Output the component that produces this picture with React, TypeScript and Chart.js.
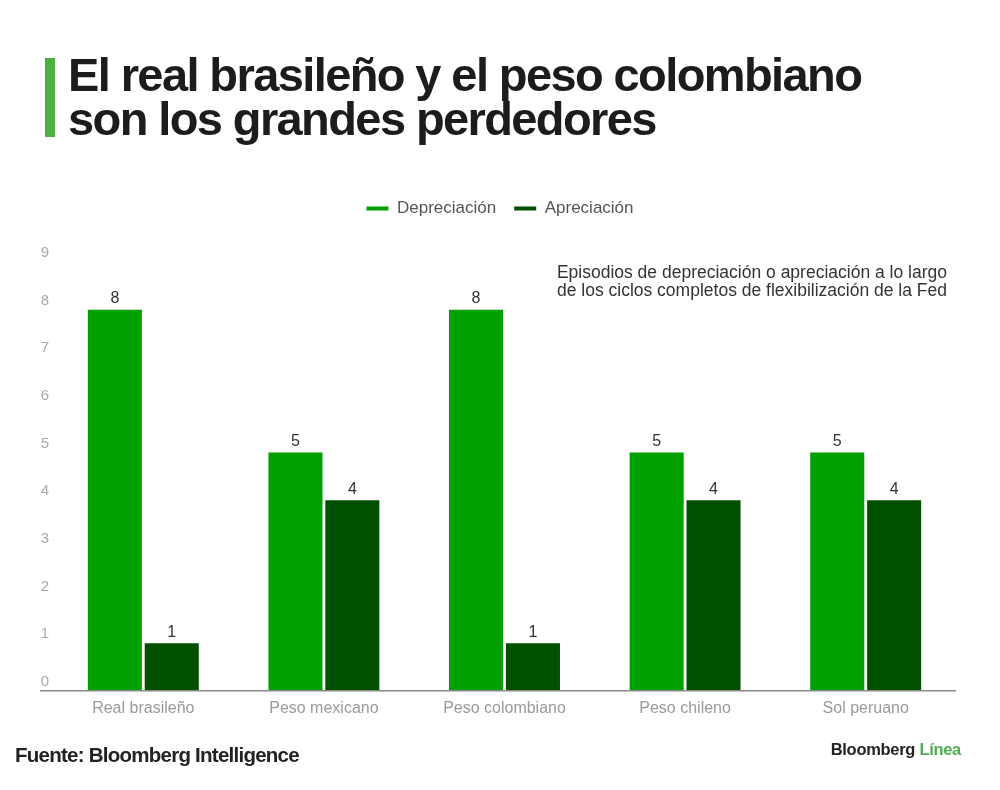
import React, { useEffect, useRef } from 'react';
import { Chart, registerables } from 'chart.js';

Chart.register(...registerables);

const FONT = '"Liberation Sans", Arial, Helvetica, sans-serif';

const categories = ['Real brasileño', 'Peso mexicano', 'Peso colombiano', 'Peso chileno', 'Sol peruano'];
const seriesNames = ['Depreciación', 'Apreciación'];
const depreciacion = [8, 5, 8, 5, 5];
const apreciacion = [1, 4, 1, 4, 4];
const yMin = 0;
const yMax = 9;
const yStep = 1;

const titleLines = ['El real brasileño y el peso colombiano', 'son los grandes perdedores'];
const noteLines = [
  'Episodios de depreciación o apreciación a lo largo',
  'de los ciclos completos de flexibilización de la Fed',
];
const sourceText = 'Fuente: Bloomberg Intelligence';

const COLORS = ['#00a000', '#005000'];

const legendSpacer = {
  id: 'legendSpacer',
  beforeLayout(chart: any) {
    const legend = chart.legend;
    if (legend && !legend.__patched) {
      const fit = legend.fit;
      legend.fit = function () {
        fit.call(this);
        this.height = 80;
      };
      legend.__patched = true;
    }
  },
  afterLayout(chart: any) {
    const legend = chart.legend;
    if (legend) {
      // centre the legend on the page rather than on the padded box
      const w = chart.width;
      const half = Math.min(legend.left, w - legend.right);
      legend.left = half;
      legend.right = w - half;
    }
  },
};

const baseline = {
  id: 'baseline',
  afterDatasetsDraw(chart: any) {
    const { ctx, chartArea, scales } = chart;
    const y = scales.y.getPixelForValue(0);
    ctx.save();
    ctx.strokeStyle = '#8a8a8a';
    ctx.lineWidth = 1.5;
    ctx.beginPath();
    ctx.moveTo(chartArea.left - 13, y);
    ctx.lineTo(chartArea.right, y);
    ctx.stroke();
    ctx.restore();
  },
};

const valueLabels = {
  id: 'valueLabels',
  afterDatasetsDraw(chart: any) {
    const { ctx } = chart;
    ctx.save();
    ctx.fillStyle = '#333';
    ctx.font = `16px ${FONT}`;
    ctx.textAlign = 'center';
    ctx.textBaseline = 'bottom';
    chart.data.datasets.forEach((ds: any, di: number) => {
      const meta = chart.getDatasetMeta(di);
      meta.data.forEach((bar: any, i: number) => {
        ctx.fillText(String(ds.data[i]), bar.x, bar.y - 3);
      });
    });
    ctx.restore();
  },
};

export default function App() {
  const ref = useRef<HTMLCanvasElement | null>(null);

  useEffect(() => {
    if (!ref.current) return;
    Chart.defaults.font.family = FONT;
    const chart = new Chart(ref.current, {
      type: 'bar',
      data: {
        labels: categories,
        datasets: [
          {
            label: seriesNames[0],
            data: depreciacion,
            backgroundColor: COLORS[0],
            barPercentage: 0.95,
            categoryPercentage: 0.63,
          },
          {
            label: seriesNames[1],
            data: apreciacion,
            backgroundColor: COLORS[1],
            barPercentage: 0.95,
            categoryPercentage: 0.63,
          },
        ],
      },
      options: {
        responsive: false,
        animation: false,
        devicePixelRatio: 1,
        layout: { padding: { top: 182, right: 44, bottom: 64, left: 0 } },
        plugins: {
          tooltip: { enabled: false },
          legend: {
            display: true,
            position: 'top',
            labels: {
              boxWidth: 22,
              boxHeight: 4,
              padding: 18,
              color: '#555',
              font: { size: 17, family: FONT },
            },
          },
        },
        scales: {
          x: {
            grid: { display: false, drawTicks: false },
            border: { display: false },
            ticks: { color: '#9a9a9a', font: { size: 16, family: FONT }, padding: 8 },
          },
          y: {
            min: yMin,
            max: yMax,
            grid: { display: false, drawTicks: false },
            border: { display: false },
            ticks: {
              stepSize: yStep,
              color: '#aaa',
              font: { size: 15, family: FONT },
              padding: 4,
              labelOffset: -9,
            },
            afterFit(scale: any) {
              scale.width = 53;
            },
          },
        },
      },
      plugins: [legendSpacer, baseline, valueLabels],
    } as any);
    return () => chart.destroy();
  }, []);

  return (
    <div
      style={{
        position: 'absolute',
        left: 0,
        top: 0,
        width: 1000,
        height: 790,
        background: '#fff',
        fontFamily: FONT,
        overflow: 'hidden',
      }}
    >
      <canvas
        ref={ref}
        width={1000}
        height={790}
        style={{ position: 'absolute', left: 0, top: 0, width: 1000, height: 790 }}
      />
      <div
        style={{
          position: 'absolute',
          left: 45,
          top: 58,
          width: 10,
          height: 79,
          background: '#4caf3f',
        }}
      />
      <div
        style={{
          position: 'absolute',
          left: 68,
          top: 53,
          fontSize: 47,
          fontWeight: 700,
          letterSpacing: '-1.6px',
          lineHeight: '44px',
          color: '#1c1c1c',
          whiteSpace: 'nowrap',
        }}
      >
        {titleLines.map((l) => (
          <div key={l}>{l}</div>
        ))}
      </div>
      <div
        style={{
          position: 'absolute',
          right: 53,
          top: 263,
          fontSize: 17.5,
          lineHeight: '18px',
          letterSpacing: '0px',
          color: '#333',
          textAlign: 'right',
          whiteSpace: 'nowrap',
        }}
      >
        {noteLines.map((l) => (
          <div key={l}>{l}</div>
        ))}
      </div>
      <div
        style={{
          position: 'absolute',
          left: 15,
          top: 743,
          fontSize: 20.5,
          lineHeight: '24px',
          fontWeight: 700,
          letterSpacing: '-0.75px',
          color: '#222',
          whiteSpace: 'nowrap',
        }}
      >
        {sourceText}
      </div>
      <div
        style={{
          position: 'absolute',
          right: 39,
          top: 739,
          fontSize: 16.5,
          lineHeight: '20px',
          fontWeight: 700,
          letterSpacing: '-0.3px',
          color: '#222',
          whiteSpace: 'nowrap',
        }}
      >
        Bloomberg <span style={{ color: '#4caf50' }}>Línea</span>
      </div>
    </div>
  );
}
